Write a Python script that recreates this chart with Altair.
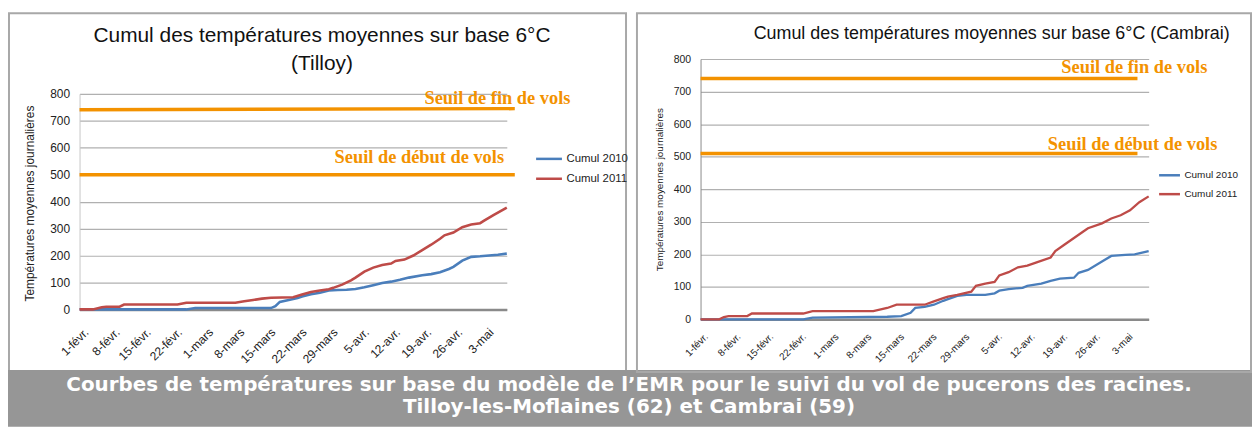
import json
import altair as alt
import pandas as pd

# ---------------- data ----------------
tick_days = [0, 7, 14, 21, 28, 35, 42, 49, 56, 63, 70, 77, 84, 91]
tick_labels = ["1-févr.", "8-févr.", "15-févr.", "22-févr.", "1-mars", "8-mars", "15-mars",
               "22-mars", "29-mars", "5-avr.", "12-avr.", "19-avr.", "26-avr.", "3-mai"]
series_names = ["Cumul 2010", "Cumul 2011"]
series_colors = ["#4A7EBB", "#BE4B48"]

# Tilloy
tilloy_2010_days = [0, 24, 26, 43, 44, 45, 47, 49, 50, 52, 54, 56, 58, 60, 62, 64, 66, 68, 70,
                    72, 74, 77, 79, 81, 83, 84, 86, 88, 90, 92, 94, 96]
tilloy_2010_vals = [0, 0, 5, 5, 12, 28, 35, 42, 48, 56, 62, 70, 72, 73, 76, 82, 90, 98, 103,
                    110, 118, 127, 131, 138, 150, 158, 181, 195, 197, 200, 203, 207]
tilloy_2011_days = [0, 3, 5, 6, 9, 10, 22, 24, 35, 37, 39, 41, 43, 48, 50, 52, 54, 56, 57, 59,
                    61, 62, 64, 66, 68, 70, 71, 73, 75, 77, 79, 81, 82, 84, 86, 88, 90, 91, 93, 96]
tilloy_2011_vals = [0, 0, 8, 10, 10, 18, 18, 25, 25, 30, 35, 40, 43, 45, 55, 65, 70, 75, 80, 92,
                    108, 118, 140, 155, 165, 170, 180, 185, 200, 220, 240, 262, 275, 285, 305,
                    315, 320, 330, 350, 378]

# Cambrai
cambrai_2010_days = [0, 22, 24, 40, 43, 45, 46, 48, 50, 52, 53, 55, 57, 61, 63, 64, 66, 69, 70,
                     73, 75, 77, 80, 81, 83, 86, 88, 91, 93, 96]
cambrai_2010_vals = [0, 0, 5, 8, 10, 20, 35, 38, 45, 57, 62, 72, 75, 75, 80, 88, 93, 97, 103,
                     110, 118, 125, 128, 143, 152, 178, 195, 198, 200, 210]
cambrai_2011_days = [0, 4, 5, 6, 10, 11, 22, 24, 37, 40, 42, 48, 50, 52, 53, 55, 58, 59, 61, 63,
                     64, 66, 68, 70, 72, 75, 76, 78, 80, 82, 83, 86, 88, 90, 92, 94, 96]
cambrai_2011_vals = [0, 0, 7, 10, 10, 18, 18, 25, 25, 35, 45, 45, 55, 65, 70, 75, 85, 103, 110,
                     115, 135, 145, 160, 165, 175, 190, 210, 230, 250, 270, 280, 295, 310, 320,
                     335, 360, 378]

# threshold lines: label, start day, end day, start value, end value, label position
tilloy_thr_label = ["Seuil de fin de vols", "Seuil de début de vols"]
tilloy_thr_day = [0, 0]
tilloy_thr_day2 = [97.8, 97.8]
tilloy_thr_val = [741, 500]
tilloy_thr_val2 = [745, 500]
tilloy_thr_text_day = [77.5, 57.3]
tilloy_thr_text_val = [785, 564]

cambrai_thr_label = ["Seuil de fin de vols", "Seuil de début de vols"]
cambrai_thr_day = [0, 0]
cambrai_thr_day2 = [93.6, 93.6]
cambrai_thr_val = [740, 510]
cambrai_thr_val2 = [740, 510]
cambrai_thr_text_day = [77.3, 74.4]
cambrai_thr_text_val = [776, 540]

title_tilloy = ["Cumul des températures moyennes sur base 6°C", "(Tilloy)"]
title_cambrai = "Cumul des températures moyennes sur base 6°C (Cambrai)"
y_title = "Températures moyennes journalières"
banner_lines = ["Courbes de températures sur base du modèle de l’EMR pour le suivi du vol de pucerons des racines.",
                "Tilloy-les-Moflaines (62) et Cambrai (59)"]

FONT = "Liberation Sans"
ORANGE = "#F39200"
label_expr = json.dumps(tick_labels, ensure_ascii=False) + "[round(datum.value/7)]"


def series_df(d10, v10, d11, v11):
    rows = [{"day": d, "value": v, "serie": series_names[0]} for d, v in zip(d10, v10)]
    rows += [{"day": d, "value": v, "serie": series_names[1]} for d, v in zip(d11, v11)]
    return pd.DataFrame(rows)


def thr_df(lab, d, d2, v, v2, td, tv):
    return pd.DataFrame({"label": lab, "day": d, "day2": d2, "value": v, "value2": v2,
                         "tday": td, "tval": tv})


one = pd.DataFrame({"k": [0]})


def panel(sdf, tdf, width, height, yrange, g):
    xs = alt.Scale(domain=[0, 96], nice=False, zero=False)
    ys = alt.Scale(domain=[0, 800], nice=False, range=yrange)
    xaxis = alt.Axis(values=tick_days, labelExpr=label_expr, labelAngle=-45, labelAlign="right",
                     labelBaseline="top", labelFont=FONT, labelFontSize=g["xfs"], labelColor="#222",
                     labelPadding=g["xpad"], labelOffset=g["xoff"], labelOverlap=False, labelFlush=False,
                     labelBound=False, grid=False, ticks=False, domainColor="#8a8a8a",
                     domainWidth=2.5, title=None)
    yaxis = alt.Axis(values=list(range(0, 801, 100)), labelFont=FONT, labelFontSize=g["yfs"],
                     labelColor="#222", labelPadding=g["ypad"], ticks=False, grid=True,
                     gridColor="#b0b0b0", gridWidth=1.2, domainColor=g["ydom"], domainWidth=1,
                     title=y_title, titleFont=FONT, titleFontSize=g["ytfs"], titleFontWeight="normal",
                     titleColor="#222", titleX=g["ytx"], titleY=g["yty"], titleAngle=270,
                     titleAlign="center", titleBaseline="middle")

    border = alt.Chart(one).mark_rect(filled=False, stroke="#a8a8a8", strokeWidth=2).encode(
        x=alt.value(g["bx"]), x2=alt.value(g["bx2"]), y=alt.value(-46), y2=alt.value(315))

    lines = alt.Chart(sdf).mark_line(strokeWidth=g["lw"]).encode(
        x=alt.X("day:Q", scale=xs, axis=xaxis), y=alt.Y("value:Q", scale=ys, axis=yaxis),
        color=alt.Color("serie:N", scale=alt.Scale(domain=series_names, range=series_colors),
                        legend=alt.Legend(orient="none", legendX=g["lx"], legendY=g["ly"], title=None,
                                          symbolType="stroke", symbolSize=g["ls"],
                                          symbolStrokeWidth=2.5, labelFont=FONT,
                                          labelFontSize=g["lfs"], labelColor="#222",
                                          labelOffset=3, rowPadding=g["lrp"], padding=0)))

    rules = alt.Chart(tdf).mark_rule(color=ORANGE, strokeWidth=3.5).encode(
        x=alt.X("day:Q", scale=xs, axis=xaxis), x2="day2:Q",
        y=alt.Y("value:Q", scale=ys, axis=yaxis), y2="value2:Q")

    ttext = alt.Chart(tdf).mark_text(font="Liberation Serif", fontWeight="bold", fontSize=18.5,
                                     color=ORANGE, align="left", baseline="middle").encode(
        x=alt.X("tday:Q", scale=xs, axis=xaxis), y=alt.Y("tval:Q", scale=ys, axis=yaxis),
        text="label:N")

    layers = [border, rules, lines, ttext]
    for i, t in enumerate(g["titles"]):
        layers.append(alt.Chart(one).mark_text(font=FONT, fontSize=g["tfs"], color="#111",
                                               align="center", baseline="middle").encode(
            x=alt.value(g["tx"]), y=alt.value(g["ty"][i]), text=alt.value(t)))
    return layers


left_layers = panel(series_df(tilloy_2010_days, tilloy_2010_vals, tilloy_2011_days, tilloy_2011_vals),
                    thr_df(tilloy_thr_label, tilloy_thr_day, tilloy_thr_day2, tilloy_thr_val,
                           tilloy_thr_val2, tilloy_thr_text_day, tilloy_thr_text_val),
                    430, 252, [252, 35],
                    dict(xfs=12, xpad=17, xoff=3, yfs=12, ypad=10, ydom="#c8c8c8", ytfs=12,
                         ytx=-50, yty=145, bx=-71, bx2=550, lw=2.6, lx=458, ly=86, ls=676,
                         lfs=11.5, lrp=-1, titles=title_tilloy, tfs=21, tx=244, ty=[-23, 5]))

banner = alt.Chart(one).mark_rect(color="#969696").encode(
    x=alt.value(-72), x2=alt.value(1180), y=alt.value(313), y2=alt.value(370))
left_layers.append(banner)
for i, t in enumerate(banner_lines):
    left_layers.append(alt.Chart(one).mark_text(font="DejaVu Sans", fontWeight="bold", fontSize=20,
                                                color="white", align="center", baseline="middle").encode(
        x=alt.value(553), y=alt.value([328, 350][i]), text=alt.value(t)))

left = alt.layer(*left_layers).properties(width=430, height=252)

right_layers = panel(series_df(cambrai_2010_days, cambrai_2010_vals, cambrai_2011_days, cambrai_2011_vals),
                     thr_df(cambrai_thr_label, cambrai_thr_day, cambrai_thr_day2, cambrai_thr_val,
                            cambrai_thr_val2, cambrai_thr_text_day, cambrai_thr_text_val),
                     451, 262, [262, 0],
                     dict(xfs=10, xpad=12, xoff=2, yfs=10.5, ypad=10, ydom="#8a8a8a", ytfs=10,
                          ytx=-41, yty=131, bx=-64, bx2=554, lw=2.3, lx=460, ly=105, ls=441,
                          lfs=10, lrp=2, titles=[title_cambrai], tfs=18, tx=293, ty=[-25]))
right = alt.layer(*right_layers).properties(width=451, height=262)

chart = alt.hconcat(left, right, spacing=195, bounds="flush").resolve_scale(
    x="independent", y="independent", color="independent"
).properties(
    padding={"left": 0, "top": 3, "right": 0, "bottom": 0}
).configure_view(stroke=None)

chart.save("out.html", embed_options={"renderer": "svg", "actions": False})
